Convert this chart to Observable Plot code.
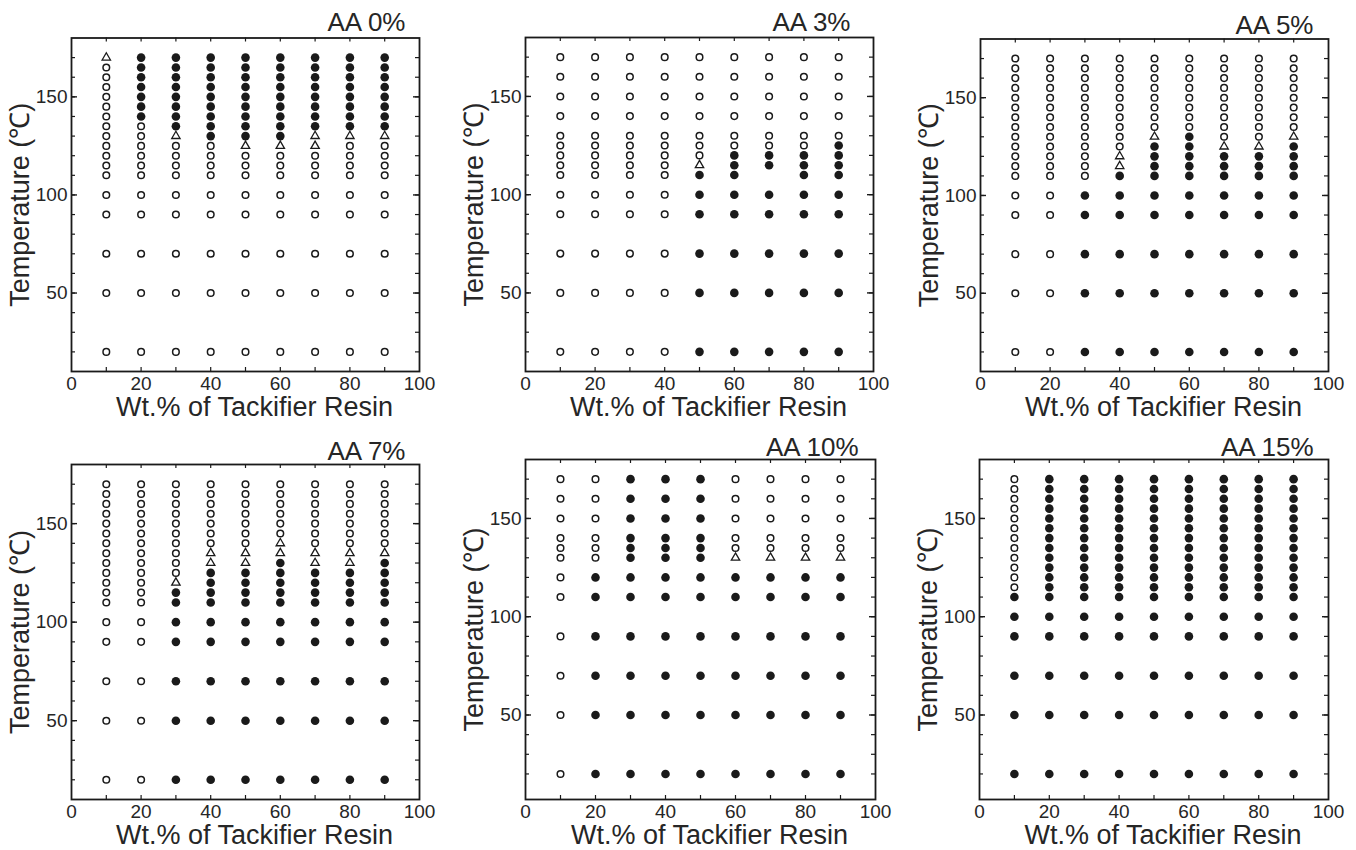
<!DOCTYPE html>
<html>
<head>
<meta charset="utf-8">
<script src="https://cdn.jsdelivr.net/npm/d3@7"></script>
<script src="https://cdn.jsdelivr.net/npm/@observablehq/plot@0.6"></script>
<style>
  html, body { margin: 0; padding: 0; background: #fff; }
  #wrap { position: relative; width: 1356px; height: 850px; background: #fff; overflow: hidden; }
  .panel { position: absolute; }
</style>
</head>
<body>
<div id="wrap"></div>
<script>
// ---------------- data ----------------
const xCols = [10, 20, 30, 40, 50, 60, 70, 80, 90];

// temperature rows (℃)
const tempsDense = [170, 165, 160, 155, 150, 145, 140, 135, 130, 125, 120, 115, 110, 100, 90, 70, 50, 20];
const tempsAA3   = [170, 160, 150, 140, 130, 125, 120, 115, 110, 100, 90, 70, 50, 20];
const tempsAA10  = [170, 160, 150, 140, 135, 130, 120, 110, 90, 70, 50, 20];

// state codes per column (x = 10 … 90), one char per temperature row:
// o = open circle, f = filled circle, t = open triangle, - = no point
const statesAA0 = [
  "t" + "oooooooooooo" + "ooooo",
  "fffffff" + "oooooo" + "ooooo",
  "ffffffff" + "t" + "oooo" + "ooooo",
  "fffffffff" + "oooo" + "ooooo",
  "fffffffff" + "t" + "ooo" + "ooooo",
  "fffffffff" + "t" + "ooo" + "ooooo",
  "ffffffff" + "tt" + "ooo" + "ooooo",
  "ffffffff" + "t" + "oooo" + "ooooo",
  "ffffffff" + "t" + "oooo" + "ooooo"
];
const statesAA3 = [
  "oooooooooooooo",
  "oooooooooooooo",
  "oooooooooooooo",
  "oooooooooooooo",
  "ooooooo" + "tf" + "fffff",
  "oooooo" + "fff" + "fffff",
  "oooooo" + "ff-" + "fffff",
  "oooooo" + "fff" + "fffff",
  "ooooo" + "ffff" + "fffff"
];
const statesAA5 = [
  "oooooooooooooooooo",
  "oooooooooooooooooo",
  "ooooooooooooo" + "fffff",
  "oooooooooo" + "ttf" + "fffff",
  "oooooooo" + "tffff" + "fffff",
  "oooooooo" + "fffff" + "fffff",
  "ooooooooo" + "tfff" + "fffff",
  "ooooooooo" + "tfff" + "fffff",
  "oooooooo" + "tffff" + "fffff"
];
const statesAA7 = [
  "oooooooooooooooooo",
  "oooooooooooooooooo",
  "oooooooooo" + "tff" + "fffff",
  "ooooooo" + "ttffff" + "fffff",
  "ooooooo" + "ttffff" + "fffff",
  "oooooo" + "ttfffff" + "fffff",
  "ooooooo" + "ttffff" + "fffff",
  "ooooooo" + "ttffff" + "fffff",
  "ooooooo" + "tfffff" + "fffff"
];
const statesAA10 = [
  "oooooooooooo",
  "oooooo" + "ffffff",
  "ffffffffffff",
  "ffffffffffff",
  "ffffffffffff",
  "ooooo" + "t" + "ffffff",
  "ooooo" + "t" + "ffffff",
  "ooooo" + "t" + "ffffff",
  "ooooo" + "t" + "ffffff"
];
const statesAA15 = [
  "oooooooooooo" + "f" + "fffff",
  "ffffffffffffffffff",
  "ffffffffffffffffff",
  "ffffffffffffffffff",
  "ffffffffffffffffff",
  "ffffffffffffffffff",
  "ffffffffffffffffff",
  "ffffffffffffffffff",
  "ffffffffffffffffff"
];

const panelTitles = ["AA 0%", "AA 3%", "AA 5%", "AA 7%", "AA 10%", "AA 15%"];
const xTickLabels = [0, 20, 40, 60, 80, 100];
const yTickLabels = [50, 100, 150];
const xMinorTicks = [10, 20, 30, 40, 50, 60, 70, 80, 90];
const yMinorTicks = [20, 30, 40, 50, 60, 70, 80, 90, 100, 110, 120, 130, 140, 150, 160, 170];
const xTitle = "Wt.% of Tackifier Resin";
const yTitle = "Temperature (℃)";

// ---------------- layout ----------------
const layout = [
  {left: 0,   top: 0,   mL: 71, mR: 33, mT: 37.5, mB: 54, y0: 10, tdx: -14, tdy: -7.5},
  {left: 452, top: 0,   mL: 73, mR: 31, mT: 37,   mB: 54, y0: 10, tdx: -23, tdy: -7},
  {left: 904, top: 0,   mL: 76, mR: 28, mT: 38.5, mB: 54, y0: 10, tdx: -15, tdy: -5.5},
  {left: 0,   top: 425, mL: 71, mR: 33, mT: 39,   mB: 51, y0: 10, tdx: -14, tdy: -5},
  {left: 452, top: 425, mL: 73, mR: 29, mT: 34,   mB: 51, y0: 7,  tdx: -17, tdy: -4},
  {left: 904, top: 425, mL: 75, mR: 28, mT: 34,   mB: 51, y0: 7,  tdx: -15, tdy: -4}
];
const panelData = [
  [statesAA0, tempsDense],
  [statesAA3, tempsAA3],
  [statesAA5, tempsDense],
  [statesAA7, tempsDense],
  [statesAA10, tempsAA10],
  [statesAA15, tempsDense]
];

const W = 452, H = 425;
const FONT = "'Liberation Sans', Arial, Helvetica, sans-serif";
const INK = "#1a1a1a";
const TXT = "#262626";

function rows(states, temps) {
  const out = [];
  states.forEach((col, i) => {
    for (let j = 0; j < temps.length; j++) {
      const s = col[j];
      if (s && s !== "-") out.push({x: xCols[i], t: temps[j], s});
    }
  });
  return out;
}

const wrap = document.getElementById("wrap");
layout.forEach((L, k) => {
  const [states, temps] = panelData[k];
  const data = rows(states, temps);
  const innerH = H - L.mT - L.mB;
  const innerW = W - L.mL - L.mR;
  const tick = 4, majorTick = 6;
  const chart = Plot.plot({
    width: W, height: H,
    marginLeft: L.mL, marginRight: L.mR, marginTop: L.mT, marginBottom: L.mB,
    x: {domain: [0, 100]},
    y: {domain: [L.y0, 180]},
    style: {fontFamily: FONT, background: "transparent", overflow: "visible", color: TXT},
    marks: [
      Plot.ruleX(xMinorTicks, {x: d => d, insetTop: innerH - tick, stroke: INK, strokeWidth: 1.2}),
      Plot.ruleX(xMinorTicks, {x: d => d, insetBottom: innerH - tick, stroke: INK, strokeWidth: 1.2}),
      Plot.ruleY(yMinorTicks, {y: d => d, insetRight: innerW - tick, stroke: INK, strokeWidth: 1.2}),
      Plot.ruleY(yMinorTicks, {y: d => d, insetLeft: innerW - tick, stroke: INK, strokeWidth: 1.2}),
      Plot.ruleY(yTickLabels, {y: d => d, insetRight: innerW - majorTick, stroke: INK, strokeWidth: 1.4}),
      Plot.ruleY(yTickLabels, {y: d => d, insetLeft: innerW - majorTick, stroke: INK, strokeWidth: 1.4}),
      Plot.frame({stroke: INK, strokeWidth: 1.8}),
      Plot.axisX({ticks: xTickLabels, tickSize: 0, tickPadding: 5, fontSize: 19, label: null, tickFormat: d => String(d)}),
      Plot.axisY({ticks: yTickLabels, tickSize: 0, tickPadding: 4, fontSize: 19, label: null, tickFormat: d => String(d)}),
      Plot.dot(data.filter(d => d.s === "o"), {x: "x", y: "t", r: 3.3, fill: "white", stroke: INK, strokeWidth: 1.5}),
      Plot.dot(data.filter(d => d.s === "f"), {x: "x", y: "t", r: 4.3, fill: INK, stroke: "none"}),
      Plot.dot(data.filter(d => d.s === "t"), {x: "x", y: "t", r: 3.1, symbol: "triangle", fill: "white", stroke: INK, strokeWidth: 1.3}),
      Plot.text([panelTitles[k]], {text: d => d, frameAnchor: "top-right", textAnchor: "end", lineAnchor: "bottom", dx: L.tdx, dy: L.tdy, fontSize: 26, fill: TXT}),
      Plot.text([xTitle], {text: d => d, frameAnchor: "bottom", lineAnchor: "middle", dx: 9, dy: 36, fontSize: 27, fill: TXT}),
      Plot.text([yTitle], {text: d => d, frameAnchor: "left", rotate: -90, lineAnchor: "middle", textAnchor: "middle", dx: -51, fontSize: 27, fill: TXT})
    ]
  });
  const div = document.createElement("div");
  div.className = "panel";
  div.style.left = L.left + "px";
  div.style.top = L.top + "px";
  div.appendChild(chart);
  wrap.appendChild(div);
});
</script>
</body>
</html>
